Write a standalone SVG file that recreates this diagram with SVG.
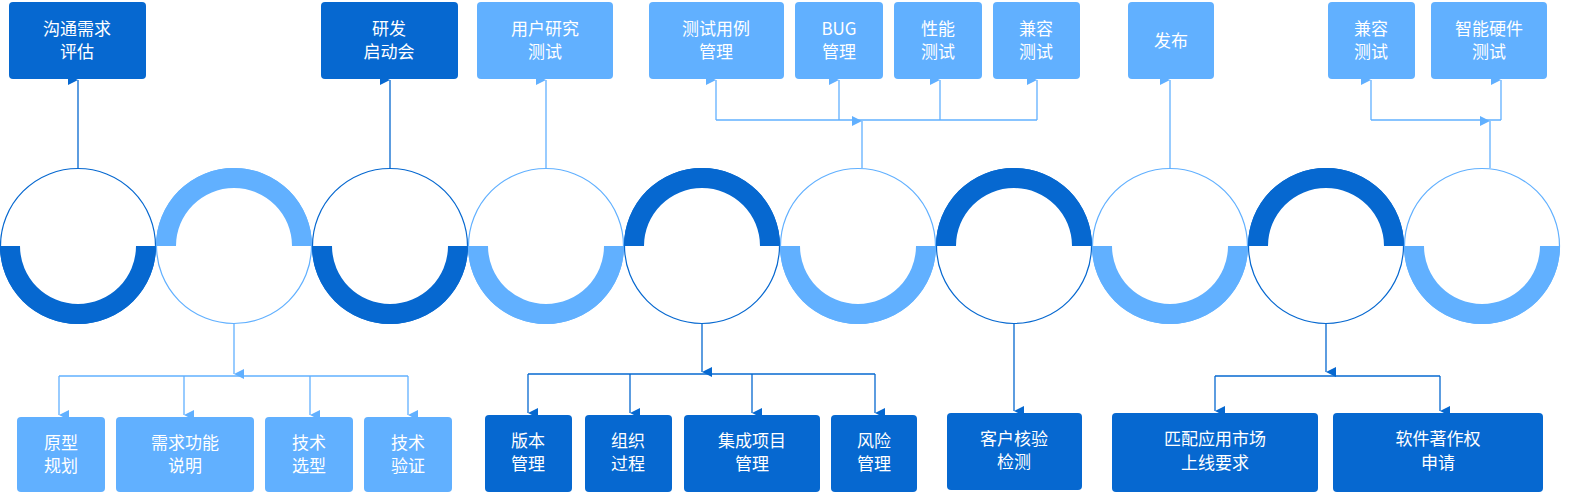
<svg xmlns="http://www.w3.org/2000/svg" width="1578" height="500" viewBox="0 0 1578 500">
<style>
.d{fill:#0668D0}.l{fill:#61B0FF}
.t{font-family:"Noto Sans CJK SC","Liberation Sans",sans-serif;font-size:17px;fill:#fff;text-anchor:middle}
.cd{fill:none;stroke:#0668D0;stroke-width:1.2}.cl{fill:none;stroke:#61B0FF;stroke-width:1.2}
.ld{fill:none;stroke:#0668D0;stroke-width:1.3}.ll{fill:none;stroke:#61B0FF;stroke-width:1.3}
</style>
<defs>
<marker id="ad" viewBox="0 0 10 10" refX="5" refY="10" markerWidth="10" markerHeight="10" markerUnits="userSpaceOnUse" orient="auto-start-reverse"><path d="M0,0L10,0L5,10Z" fill="#0668D0"/></marker>
<marker id="al" viewBox="0 0 10 10" refX="5" refY="10" markerWidth="10" markerHeight="10" markerUnits="userSpaceOnUse" orient="auto-start-reverse"><path d="M0,0L10,0L5,10Z" fill="#61B0FF"/></marker>
<path id="bot" d="M-78,0A78,78 0 0 0 78,0L58,0A58,58 0 0 1 -58,0Z"/>
<path id="top" d="M-78,0A78,78 0 0 1 78,0L58,0A58,58 0 0 0 -58,0Z"/>
</defs>
<g id="rings">
<circle class="cd" cx="78" cy="246" r="77.5"/><use href="#bot" class="d" x="78" y="246"/>
<circle class="cl" cx="234" cy="246" r="77.5"/><use href="#top" class="l" x="234" y="246"/>
<circle class="cd" cx="390" cy="246" r="77.5"/><use href="#bot" class="d" x="390" y="246"/>
<circle class="cl" cx="546" cy="246" r="77.5"/><use href="#bot" class="l" x="546" y="246"/>
<circle class="cd" cx="702" cy="246" r="77.5"/><use href="#top" class="d" x="702" y="246"/>
<circle class="cl" cx="858" cy="246" r="77.5"/><use href="#bot" class="l" x="858" y="246"/>
<circle class="cd" cx="1014" cy="246" r="77.5"/><use href="#top" class="d" x="1014" y="246"/>
<circle class="cl" cx="1170" cy="246" r="77.5"/><use href="#bot" class="l" x="1170" y="246"/>
<circle class="cd" cx="1326" cy="246" r="77.5"/><use href="#top" class="d" x="1326" y="246"/>
<circle class="cl" cx="1482" cy="246" r="77.5"/><use href="#bot" class="l" x="1482" y="246"/>
</g>
<g id="connectors">
<path class="ld" d="M78,168V80" marker-end="url(#ad)"/>
<path class="ld" d="M390,168V80" marker-end="url(#ad)"/>
<path class="ll" d="M546,168V80" marker-end="url(#al)"/>
<path class="ll" d="M862,168V121"  marker-end="url(#al)"/>
<path class="ll" d="M716,120H1037"/>
<path class="ll" d="M716,120V80" marker-end="url(#al)"/>
<path class="ll" d="M839,120V80" marker-end="url(#al)"/>
<path class="ll" d="M940,120V80" marker-end="url(#al)"/>
<path class="ll" d="M1037,120V80" marker-end="url(#al)"/>
<path class="ll" d="M1170,168V80" marker-end="url(#al)"/>
<path class="ll" d="M1490,168V121" marker-end="url(#al)"/>
<path class="ll" d="M1371,120H1501"/>
<path class="ll" d="M1371,120V80" marker-end="url(#al)"/>
<path class="ll" d="M1501,120V80" marker-end="url(#al)"/>
<path class="ll" d="M234,324V374" marker-end="url(#al)"/>
<path class="ll" d="M59,376H408"/>
<path class="ll" d="M59,376V415" marker-end="url(#al)"/>
<path class="ll" d="M184,376V415" marker-end="url(#al)"/>
<path class="ll" d="M310,376V415" marker-end="url(#al)"/>
<path class="ll" d="M408,376V415" marker-end="url(#al)"/>
<path class="ld" d="M702,324V372" marker-end="url(#ad)"/>
<path class="ld" d="M528,374H875"/>
<path class="ld" d="M528,374V413" marker-end="url(#ad)"/>
<path class="ld" d="M630,374V413" marker-end="url(#ad)"/>
<path class="ld" d="M752,374V413" marker-end="url(#ad)"/>
<path class="ld" d="M875,374V413" marker-end="url(#ad)"/>
<path class="ld" d="M1014,324V411" marker-end="url(#ad)"/>
<path class="ld" d="M1326,324V372" marker-end="url(#ad)"/>
<path class="ld" d="M1215,376H1440"/>
<path class="ld" d="M1215,376V411" marker-end="url(#ad)"/>
<path class="ld" d="M1440,376V411" marker-end="url(#ad)"/>
</g>
<g id="n1"><rect class="d" x="9" y="2" width="137" height="77" rx="4"/><text class="t" x="77" y="35">沟通需求</text><text class="t" x="77" y="58">评估</text></g>
<g id="n2"><rect class="d" x="321" y="2" width="137" height="77" rx="4"/><text class="t" x="389" y="35">研发</text><text class="t" x="389" y="58">启动会</text></g>
<g id="n3"><rect class="l" x="477" y="2" width="136" height="77" rx="4"/><text class="t" x="545" y="35">用户研究</text><text class="t" x="545" y="58">测试</text></g>
<g id="n4"><rect class="l" x="649" y="2" width="135" height="77" rx="4"/><text class="t" x="716" y="35">测试用例</text><text class="t" x="716" y="58">管理</text></g>
<g id="n5"><rect class="l" x="795" y="2" width="88" height="77" rx="4"/><text class="t" x="839" y="35">BUG</text><text class="t" x="839" y="58">管理</text></g>
<g id="n6"><rect class="l" x="894" y="2" width="88" height="77" rx="4"/><text class="t" x="938" y="35">性能</text><text class="t" x="938" y="58">测试</text></g>
<g id="n7"><rect class="l" x="993" y="2" width="87" height="77" rx="4"/><text class="t" x="1036" y="35">兼容</text><text class="t" x="1036" y="58">测试</text></g>
<g id="n8"><rect class="l" x="1128" y="2" width="86" height="77" rx="4"/><text class="t" x="1171" y="47">发布</text></g>
<g id="n9"><rect class="l" x="1328" y="2" width="87" height="77" rx="4"/><text class="t" x="1371" y="35">兼容</text><text class="t" x="1371" y="58">测试</text></g>
<g id="n10"><rect class="l" x="1431" y="2" width="116" height="77" rx="4"/><text class="t" x="1489" y="35">智能硬件</text><text class="t" x="1489" y="58">测试</text></g>
<g id="n11"><rect class="l" x="17" y="417" width="88" height="75" rx="4"/><text class="t" x="61" y="449">原型</text><text class="t" x="61" y="472">规划</text></g>
<g id="n12"><rect class="l" x="116" y="417" width="138" height="75" rx="4"/><text class="t" x="185" y="449">需求功能</text><text class="t" x="185" y="472">说明</text></g>
<g id="n13"><rect class="l" x="265" y="417" width="88" height="75" rx="4"/><text class="t" x="309" y="449">技术</text><text class="t" x="309" y="472">选型</text></g>
<g id="n14"><rect class="l" x="364" y="417" width="88" height="75" rx="4"/><text class="t" x="408" y="449">技术</text><text class="t" x="408" y="472">验证</text></g>
<g id="n15"><rect class="d" x="485" y="415" width="87" height="77" rx="4"/><text class="t" x="528" y="447">版本</text><text class="t" x="528" y="470">管理</text></g>
<g id="n16"><rect class="d" x="585" y="415" width="87" height="77" rx="4"/><text class="t" x="628" y="447">组织</text><text class="t" x="628" y="470">过程</text></g>
<g id="n17"><rect class="d" x="684" y="415" width="136" height="77" rx="4"/><text class="t" x="752" y="447">集成项目</text><text class="t" x="752" y="470">管理</text></g>
<g id="n18"><rect class="d" x="831" y="415" width="86" height="77" rx="4"/><text class="t" x="874" y="447">风险</text><text class="t" x="874" y="470">管理</text></g>
<g id="n19"><rect class="d" x="947" y="413" width="135" height="77" rx="4"/><text class="t" x="1014" y="445">客户核验</text><text class="t" x="1014" y="468">检测</text></g>
<g id="n20"><rect class="d" x="1112" y="413" width="206" height="79" rx="4"/><text class="t" x="1215" y="445">匹配应用市场</text><text class="t" x="1215" y="469">上线要求</text></g>
<g id="n21"><rect class="d" x="1333" y="413" width="210" height="79" rx="4"/><text class="t" x="1438" y="445">软件著作权</text><text class="t" x="1438" y="469">申请</text></g>
</svg>
